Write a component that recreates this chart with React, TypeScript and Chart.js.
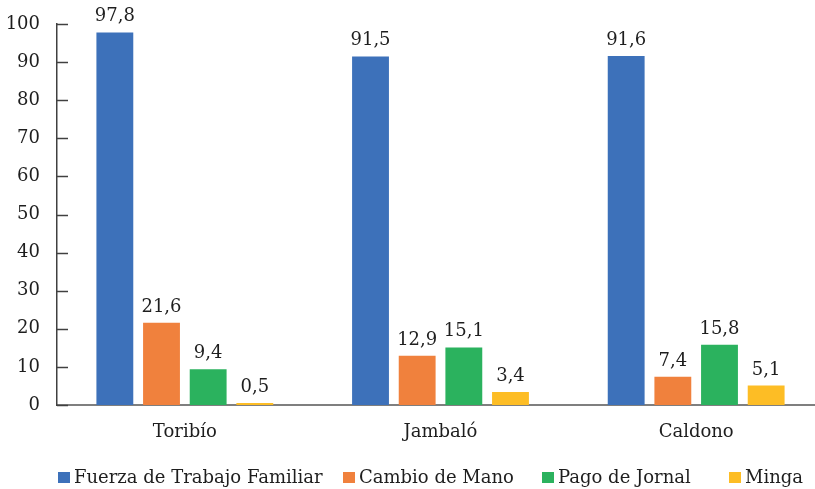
import React, { useEffect, useRef } from "react";
import { Chart, registerables } from "chart.js";

Chart.register(...registerables);

const categories = ["Toribío", "Jambaló", "Caldono"];
const seriesNames = ["Fuerza de Trabajo Familiar", "Cambio de Mano", "Pago de Jornal", "Minga"];
const fuerzaFamiliar = [97.8, 91.5, 91.6];
const cambioDeMano = [21.6, 12.9, 7.4];
const pagoDeJornal = [9.4, 15.1, 15.8];
const minga = [0.5, 3.4, 5.1];
const seriesColors = ["#3D71BA", "#F0813D", "#2BB25E", "#FDBD25"];
const yTicks = [0, 10, 20, 30, 40, 50, 60, 70, 80, 90, 100];

const FONT = "DejaVu Serif";
const FONT_SIZE = 18;
const TEXT_COLOR = "#1E1E1E";

const formatValue = (v: number) => v.toFixed(1).replace(".", ",");

// Short tick marks on the inside of the value axis
const innerTicks = {
  id: "innerTicks",
  afterDraw(chart: any) {
    const { ctx } = chart;
    const y = chart.scales.y;
    const x0 = chart.chartArea.left;
    ctx.save();
    ctx.strokeStyle = "#404040";
    ctx.lineWidth = 1.5;
    for (const v of yTicks) {
      const py = Math.round(y.getPixelForValue(v)) + 0.5;
      ctx.beginPath();
      ctx.moveTo(x0, py);
      ctx.lineTo(x0 + 11, py);
      ctx.stroke();
    }
    ctx.restore();
  },
};

// Value labels above each bar
const valueLabels = {
  id: "valueLabels",
  afterDatasetsDraw(chart: any) {
    const { ctx } = chart;
    ctx.save();
    ctx.font = `${FONT_SIZE}px "${FONT}"`;
    ctx.fillStyle = TEXT_COLOR;
    ctx.textAlign = "center";
    ctx.textBaseline = "alphabetic";
    chart.data.datasets.forEach((ds: any, i: number) => {
      const meta = chart.getDatasetMeta(i);
      meta.data.forEach((bar: any, j: number) => {
        ctx.fillText(formatValue(ds.data[j]), bar.x, bar.y - 11);
      });
    });
    ctx.restore();
  },
};

// Legend row along the bottom
const legendStarts = [58, 343, 542, 729];
const bottomLegend = {
  id: "bottomLegend",
  afterDraw(chart: any) {
    const { ctx } = chart;
    ctx.save();
    ctx.font = `${FONT_SIZE}px "${FONT}"`;
    ctx.textAlign = "left";
    ctx.textBaseline = "alphabetic";
    chart.data.datasets.forEach((ds: any, i: number) => {
      const x = legendStarts[i];
      ctx.fillStyle = ds.backgroundColor;
      ctx.fillRect(x, 472, 12, 11);
      ctx.fillStyle = TEXT_COLOR;
      ctx.fillText(ds.label, x + 16, 483);
    });
    ctx.restore();
  },
};

export default function App() {
  const canvasRef = useRef<HTMLCanvasElement | null>(null);

  useEffect(() => {
    if (!canvasRef.current) return;
    const seriesValues = [fuerzaFamiliar, cambioDeMano, pagoDeJornal, minga];
    const chart = new Chart(canvasRef.current, {
      type: "bar",
      data: {
        labels: categories,
        datasets: seriesNames.map((name, i) => ({
          label: name,
          data: seriesValues[i],
          backgroundColor: seriesColors[i],
          borderWidth: 0,
          categoryPercentage: 0.73,
          barPercentage: 0.79,
        })),
      },
      options: {
        responsive: false,
        animation: false,
        layout: { padding: { top: 24, right: 0, bottom: 0, left: 0 } },
        plugins: {
          legend: { display: false },
          tooltip: { enabled: false },
        },
        scales: {
          x: {
            grid: { display: false, drawTicks: false },
            border: { display: true, color: "#7F7F7F", width: 2 },
            ticks: {
              color: TEXT_COLOR,
              font: { family: FONT, size: FONT_SIZE },
              padding: 17,
            },
            afterFit: (s: any) => {
              s.height = 84;
              s.paddingLeft = 0;
              s.paddingRight = 0;
            },
          },
          y: {
            min: 0,
            max: 100,
            afterBuildTicks: (s: any) => {
              s.ticks = yTicks.map((v) => ({ value: v }));
            },
            grid: { display: false, drawTicks: false },
            border: { display: true, color: "#404040", width: 1.5 },
            ticks: {
              color: TEXT_COLOR,
              font: { family: FONT, size: FONT_SIZE },
              padding: 17,
            },
            afterFit: (s: any) => {
              s.width = 57;
              s.paddingTop = 0;
              s.paddingBottom = 0;
            },
          },
        },
      },
      plugins: [innerTicks, valueLabels, bottomLegend],
    });
    return () => chart.destroy();
  }, []);

  return (
    <div
      style={{
        position: "absolute",
        left: 0,
        top: 0,
        width: 815,
        height: 489,
        overflow: "hidden",
        background: "#fff",
      }}
    >
      <canvas ref={canvasRef} width={824} height={489} style={{ display: "block" }} />
    </div>
  );
}
